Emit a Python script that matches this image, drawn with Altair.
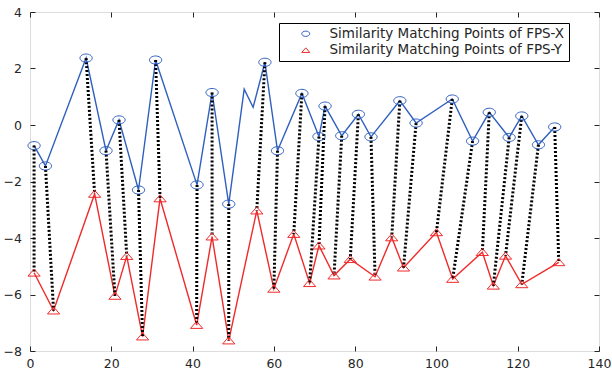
import altair as alt
import pandas as pd

# FPS-X similarity matching points (blue circles)
blue_x = [1, 3.8, 13.8, 18.7, 21.9, 26.7, 30.9, 41.1, 44.8, 48.9, 57.8, 60.9, 66.9,
          71.1, 72.6, 76.7, 80.8, 83.9, 91.0, 95.0, 103.9, 108.9, 113.0, 117.9, 121.0,
          125.1, 129.1]
blue_y = [-0.73, -1.45, 2.37, -0.91, 0.18, -2.3, 2.3, -2.12, 1.15, -2.8, 2.22, -0.91,
          1.12, -0.41, 0.67, -0.38, 0.38, -0.42, 0.86, 0.07, 0.92, -0.57, 0.45, -0.44,
          0.32, -0.7, -0.07]
# extra vertices on the FPS-X curve that carry no marker
blue_extra_x = [52.7, 54.9]
blue_extra_y = [1.27, 0.63]

# FPS-Y similarity matching points (red triangles)
red_x = [1, 5.8, 15.9, 20.9, 23.8, 27.7, 32.0, 41.0, 44.8, 48.9, 55.8, 60.0, 64.9,
         68.8, 71.1, 74.8, 78.8, 84.9, 89.0, 91.9, 100.0, 104.0, 111.3, 114.0, 117.0,
         121.0, 130.1]
red_y = [-5.23, -6.57, -2.44, -6.05, -4.64, -7.49, -2.6, -7.08, -3.95, -7.63, -3.03,
         -5.8, -3.86, -5.6, -4.27, -5.33, -4.75, -5.37, -3.98, -5.05, -3.8, -5.45, -4.5,
         -5.69, -4.63, -5.64, -4.86]

series = ["Similarity Matching Points of FPS-X", "Similarity Matching Points of FPS-Y"]
x_ticks = [0, 20, 40, 60, 80, 100, 120, 140]
y_ticks = [-8, -6, -4, -2, 0, 2, 4]

BLUE = "#2f5fbf"
RED = "#f02a2a"
TXT = "#262626"
FONT = "DejaVu Sans"

blue_line = pd.DataFrame({"x": blue_x + blue_extra_x, "y": blue_y + blue_extra_y}).sort_values("x")
red_line = pd.DataFrame({"x": red_x, "y": red_y})
pairs = pd.DataFrame({"x": blue_x, "y": blue_y, "x2": red_x, "y2": red_y})
points = pd.concat([
    pd.DataFrame({"x": blue_x, "y": blue_y, "s": series[0]}),
    pd.DataFrame({"x": red_x, "y": red_y, "s": series[1]}),
])

xs = alt.Scale(domain=[0, 140], nice=False, zero=False)
ys = alt.Scale(domain=[-8, 4], nice=False, zero=False)

axis_common = dict(domain=False, grid=False, tickColor=TXT, tickWidth=1, tickSize=5,
                   offset=-5, labelFont=FONT, labelFontSize=12.5, labelColor=TXT,
                   labelFlush=False, labelOverlap=False)

x_bottom = alt.Axis(orient="bottom", values=x_ticks, title=None, labelPadding=6,
                    **axis_common)
y_left = alt.Axis(orient="left", values=y_ticks, title=None, labelPadding=8.5,
                  **axis_common)
x_top = alt.Axis(orient="top", values=x_ticks, title=None, labels=False, **axis_common)
y_right = alt.Axis(orient="right", values=y_ticks, title=None, labels=False, **axis_common)

l_blue = alt.Chart(blue_line).mark_line(color=BLUE, strokeWidth=1.4).encode(
    x=alt.X("x:Q", scale=xs, axis=x_bottom),
    y=alt.Y("y:Q", scale=ys, axis=y_left),
)
l_red = alt.Chart(red_line).mark_line(color=RED, strokeWidth=1.4).encode(
    x=alt.X("x:Q", scale=xs, axis=x_top),
    y=alt.Y("y:Q", scale=ys, axis=y_right),
)
dots = alt.Chart(pairs).mark_rule(color="black", strokeWidth=3, strokeDash=[2, 2]).encode(
    x=alt.X("x:Q", scale=xs, axis=None),
    y=alt.Y("y:Q", scale=ys, axis=None),
    x2="x2:Q",
    y2="y2:Q",
)

ellipse = "M-1,0A1,0.66,0,1,1,1,0A1,0.66,0,1,1,-1,0Z"
triangle = "M-1,0.55L0,-0.6L1,0.55Z"

leg = dict(orient="none", legendX=249, legendY=11, title=None, strokeColor="black",
           fillColor="white", padding=4, symbolOffset=16, labelOffset=17,
           symbolSize=64, symbolStrokeWidth=1, labelFont=FONT, labelFontSize=13.5,
           labelColor=TXT, rowPadding=1.5, labelLimit=0)

pts = alt.Chart(points).mark_point(filled=False, size=150, strokeWidth=1, opacity=1).encode(
    x=alt.X("x:Q", scale=xs, axis=None),
    y=alt.Y("y:Q", scale=ys, axis=None),
    color=alt.Color("s:N", scale=alt.Scale(domain=series, range=[BLUE, RED]),
                    legend=alt.Legend(**leg)),
    shape=alt.Shape("s:N", scale=alt.Scale(domain=series, range=[ellipse, triangle]),
                    legend=alt.Legend(**leg)),
)

chart = alt.layer(l_blue, l_red, dots, pts).resolve_axis(
    x="independent", y="independent"
).properties(
    width=569, height=339,
    autosize=alt.AutoSizeParams(type="none"),
    padding={"left": 30, "top": 12, "right": 13, "bottom": 19},
).configure_view(stroke="#1a1a1a", strokeWidth=1).configure(background="white")

chart.save("out.html", embed_options={"renderer": "svg", "actions": False})
